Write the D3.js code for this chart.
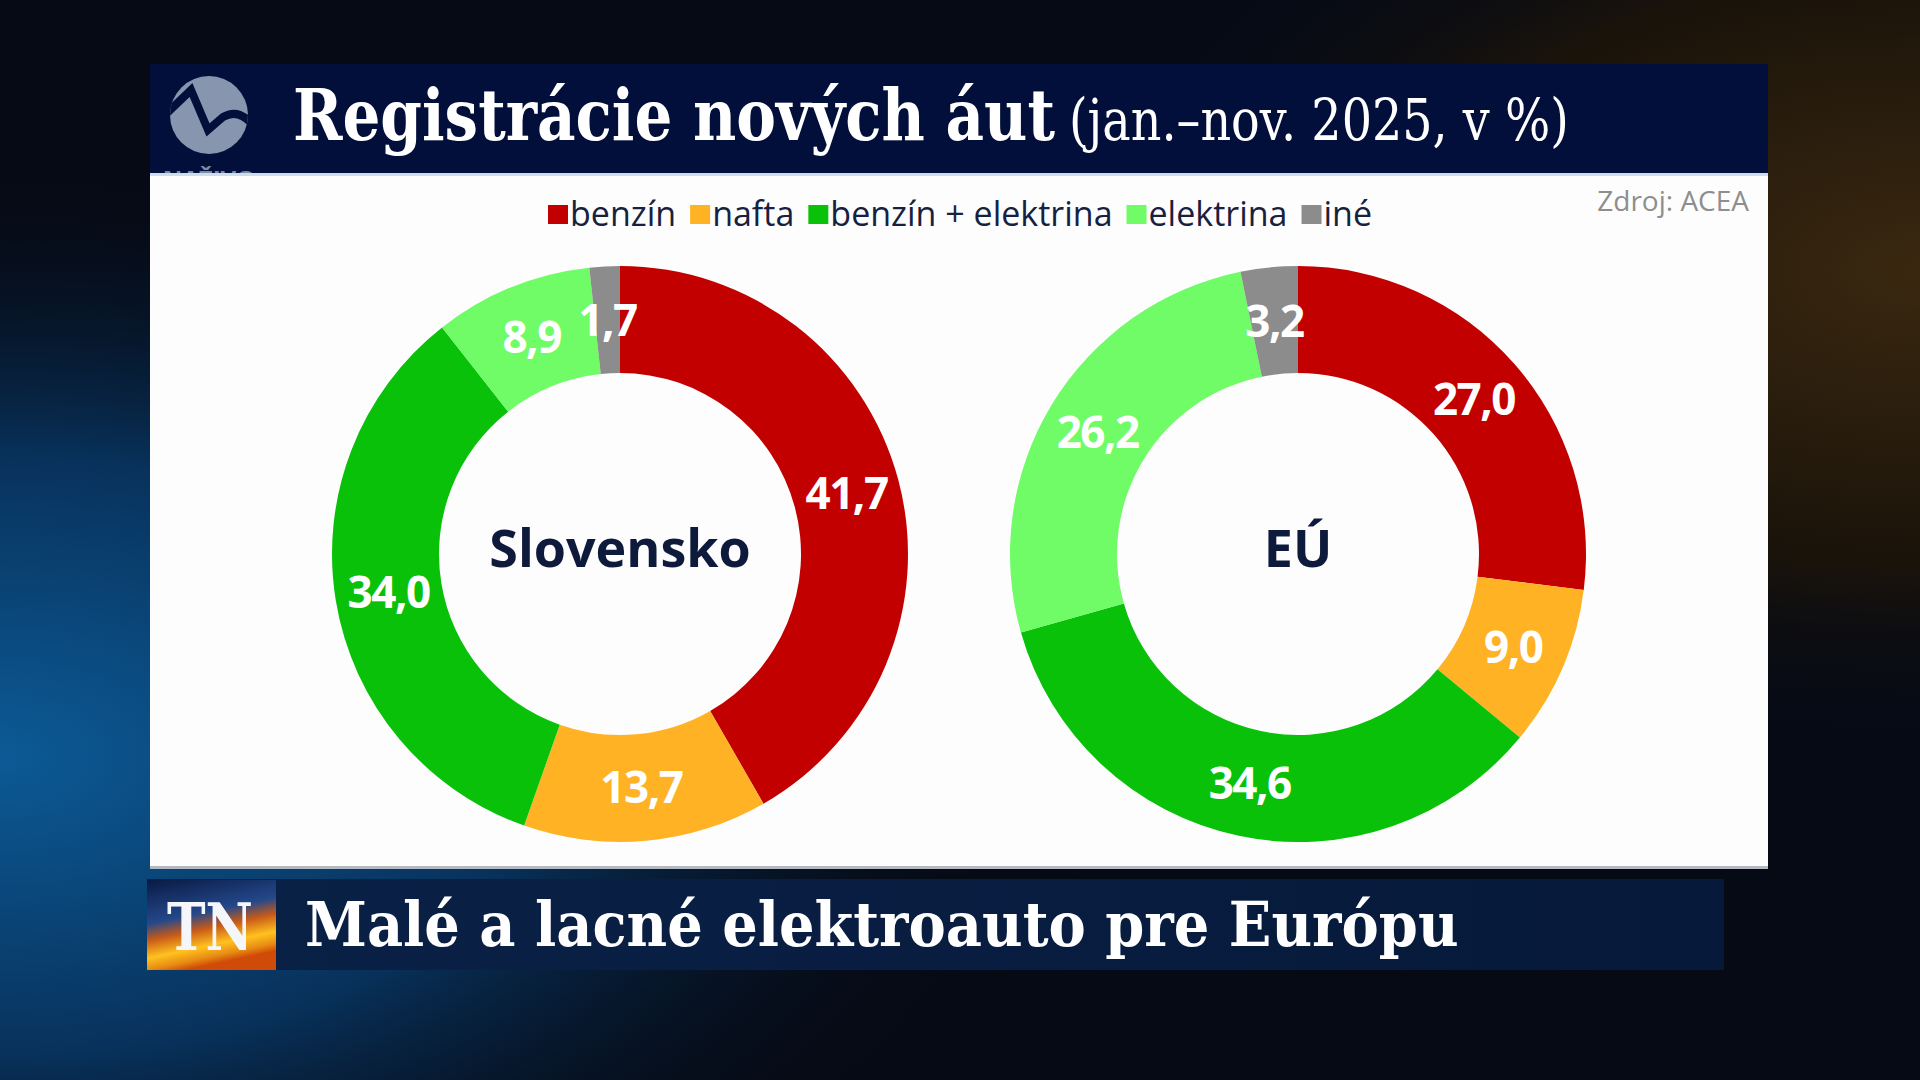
<!DOCTYPE html>
<html>
<head>
<meta charset="utf-8">
<script src="https://cdn.jsdelivr.net/npm/d3@7"></script>
<style>
  html, body { margin: 0; padding: 0; background: #050b18; overflow: hidden; }
  svg { display: block; }
</style>
</head>
<body>
<svg id="chart" width="1920" height="1080"></svg>
<script>
// ---- data ----
const categories = ["benzín", "nafta", "benzín + elektrina", "elektrina", "iné"];
const regions = ["Slovensko", "EÚ"];
const valuesSlovensko = [41.7, 13.7, 34.0, 8.9, 1.7];
const valuesEU = [27.0, 9.0, 34.6, 26.2, 3.2];
const seriesValues = [valuesSlovensko, valuesEU];
const categoryColors = ["#c30000", "#ffb224", "#09c109", "#6ffc66", "#8c8c8c"];
const titleMain = "Registrácie nových áut";
const titleSub = "(jan.–nov. 2025, v %)";
const sourceText = "Zdroj: ACEA";
const bannerText = "Malé a lacné elektroauto pre Európu";

// ---- setup ----
const svg = d3.select("#chart");
const W = 1920, H = 1080;
const defs = svg.append("defs");

// helper: text horizontally scaled to a target width
function fitText(parent, str, x, y, width, attrs) {
  const t = parent.append("text").text(str);
  Object.entries(attrs).forEach(([k, v]) => t.attr(k, v));
  const len = t.node().getComputedTextLength();
  t.attr("transform", `translate(${x},${y}) scale(${width / len},1)`);
  return t;
}

// background
const bgL = defs.append("radialGradient").attr("id", "bgBlue")
  .attr("cx", "0").attr("cy", "0.7").attr("r", "0.55");
bgL.append("stop").attr("offset", "0").attr("stop-color", "#0c5a96");
bgL.append("stop").attr("offset", "0.5").attr("stop-color", "#08325c");
bgL.append("stop").attr("offset", "1").attr("stop-color", "#050b18").attr("stop-opacity", 0);
const bgR = defs.append("radialGradient").attr("id", "bgWarm")
  .attr("cx", "1").attr("cy", "0.25").attr("r", "0.45");
bgR.append("stop").attr("offset", "0").attr("stop-color", "#3a2810");
bgR.append("stop").attr("offset", "0.6").attr("stop-color", "#1a130a");
bgR.append("stop").attr("offset", "1").attr("stop-color", "#050b18").attr("stop-opacity", 0);
svg.append("rect").attr("width", W).attr("height", H).attr("fill", "#060a14");
svg.append("rect").attr("width", W).attr("height", H).attr("fill", "url(#bgBlue)");
svg.append("rect").attr("width", W).attr("height", H).attr("fill", "url(#bgWarm)");

// header band
const panelX = 150, panelW = 1618;
svg.append("rect").attr("x", panelX).attr("y", 64).attr("width", panelW).attr("height", 109)
  .attr("fill", "#020f3b");

// logo
defs.append("clipPath").attr("id", "logoClip")
  .append("circle").attr("cx", 209).attr("cy", 115).attr("r", 39);
svg.append("circle").attr("cx", 209).attr("cy", 115).attr("r", 39).attr("fill", "#8796ae");
svg.append("path")
  .attr("d", "M166,114 L191,90 L208,130 L223,117 Q238,108 252,124")
  .attr("fill", "none").attr("stroke", "#020f3b").attr("stroke-width", 8)
  .attr("stroke-linejoin", "miter").attr("clip-path", "url(#logoClip)");
svg.append("text").attr("x", 209).attr("y", 188).attr("text-anchor", "middle")
  .attr("font-family", "Open Sans, sans-serif").attr("font-weight", 700)
  .attr("font-size", 24).attr("fill", "#7d8aa0").text("NAŽIVO");

// titles
fitText(svg, titleMain, 293, 140, 762, {
  "font-family": "DejaVu Serif, serif", "font-weight": 700,
  "font-size": 71, "fill": "#ffffff"
});
fitText(svg, titleSub, 1069, 140, 500, {
  "font-family": "DejaVu Serif, serif", "font-weight": 400,
  "font-size": 57, "fill": "#ffffff"
});

// white panel
svg.append("rect").attr("x", panelX).attr("y", 173).attr("width", panelW).attr("height", 696)
  .attr("fill", "#fdfdfe");
svg.append("rect").attr("x", panelX).attr("y", 173).attr("width", panelW).attr("height", 3)
  .attr("fill", "#cddcee");
svg.append("rect").attr("x", panelX).attr("y", 866).attr("width", panelW).attr("height", 3)
  .attr("fill", "#b4b8c0");

// source
svg.append("text").attr("x", 1749).attr("y", 211).attr("text-anchor", "end")
  .attr("font-family", "Open Sans, sans-serif").attr("font-weight", 500)
  .attr("font-size", 28).attr("fill", "#8e8e8e").text(sourceText);

// legend (flow layout)
const legend = svg.append("g").attr("class", "legend");
let lx = 548;
categories.forEach((c, i) => {
  legend.append("rect").attr("x", lx).attr("y", 205).attr("width", 20).attr("height", 19)
    .attr("fill", categoryColors[i]);
  const t = legend.append("text").attr("x", lx + 22).attr("y", 226)
    .attr("font-family", "Open Sans, sans-serif").attr("font-weight", 500)
    .attr("font-size", 34).attr("fill", "#17213f").text(c);
  lx += 22 + t.node().getComputedTextLength() + 14;
});

// donuts
const pie = d3.pie().sort(null).value(d => d);
const rOuter = 288, rInner = 181;
const arc = d3.arc().innerRadius(rInner).outerRadius(rOuter);
const centers = d3.scalePoint().domain(regions).range([620, 1298]);
const fmt = d3.formatLocale({ decimal: ",", thousands: " ", grouping: [3], currency: ["", ""] }).format(".1f");

regions.forEach((reg, ri) => {
  const g = svg.append("g").attr("transform", `translate(${centers(reg)},554)`);
  const arcs = pie(seriesValues[ri]);
  g.selectAll("path.slice").data(arcs).join("path")
    .attr("class", "slice")
    .attr("d", arc)
    .attr("fill", (d, i) => categoryColors[i]);
  g.selectAll("text.val").data(arcs).join("text")
    .attr("class", "val")
    .attr("transform", d => `translate(${arc.centroid(d)})`)
    .attr("text-anchor", "middle").attr("dy", "0.36em")
    .attr("font-family", "Open Sans, sans-serif").attr("font-weight", 700)
    .attr("font-size", 44).attr("fill", "#ffffff")
    .attr("letter-spacing", -1.5)
    .text(d => fmt(d.data));
  g.append("text").attr("text-anchor", "middle").attr("y", 13)
    .attr("font-family", "Open Sans, sans-serif").attr("font-weight", 700)
    .attr("font-size", 52).attr("fill", "#0e1a3b")
    .text(reg);
});

// bottom banner
const bannerG = defs.append("linearGradient").attr("id", "bannerGrad")
  .attr("x1", 0).attr("x2", 1).attr("y1", 0).attr("y2", 0);
bannerG.append("stop").attr("offset", 0).attr("stop-color", "#0a2147");
bannerG.append("stop").attr("offset", 1).attr("stop-color", "#06193a");
svg.append("rect").attr("x", 147).attr("y", 879).attr("width", 1577).attr("height", 91)
  .attr("fill", "url(#bannerGrad)");

// TN logo
const tnG = defs.append("linearGradient").attr("id", "tnGrad")
  .attr("x1", 0).attr("x2", 0.3).attr("y1", 0).attr("y2", 1);
tnG.append("stop").attr("offset", 0).attr("stop-color", "#0a1a45");
tnG.append("stop").attr("offset", 0.45).attr("stop-color", "#24488a");
tnG.append("stop").attr("offset", 0.62).attr("stop-color", "#c85a18");
tnG.append("stop").attr("offset", 0.8).attr("stop-color", "#ffc21e");
tnG.append("stop").attr("offset", 0.92).attr("stop-color", "#e88a14");
tnG.append("stop").attr("offset", 1).attr("stop-color", "#d04a08");
svg.append("rect").attr("x", 147).attr("y", 880).attr("width", 129).attr("height", 90)
  .attr("fill", "url(#tnGrad)");
fitText(svg, "TN", 167, 950, 86, {
  "font-family": "DejaVu Serif, serif", "font-weight": 700,
  "font-size": 66, "fill": "#f4f6fa"
});

fitText(svg, bannerText, 305, 946, 1154, {
  "font-family": "DejaVu Serif, serif", "font-weight": 700,
  "font-size": 62, "fill": "#ffffff"
});
</script>
</body>
</html>
